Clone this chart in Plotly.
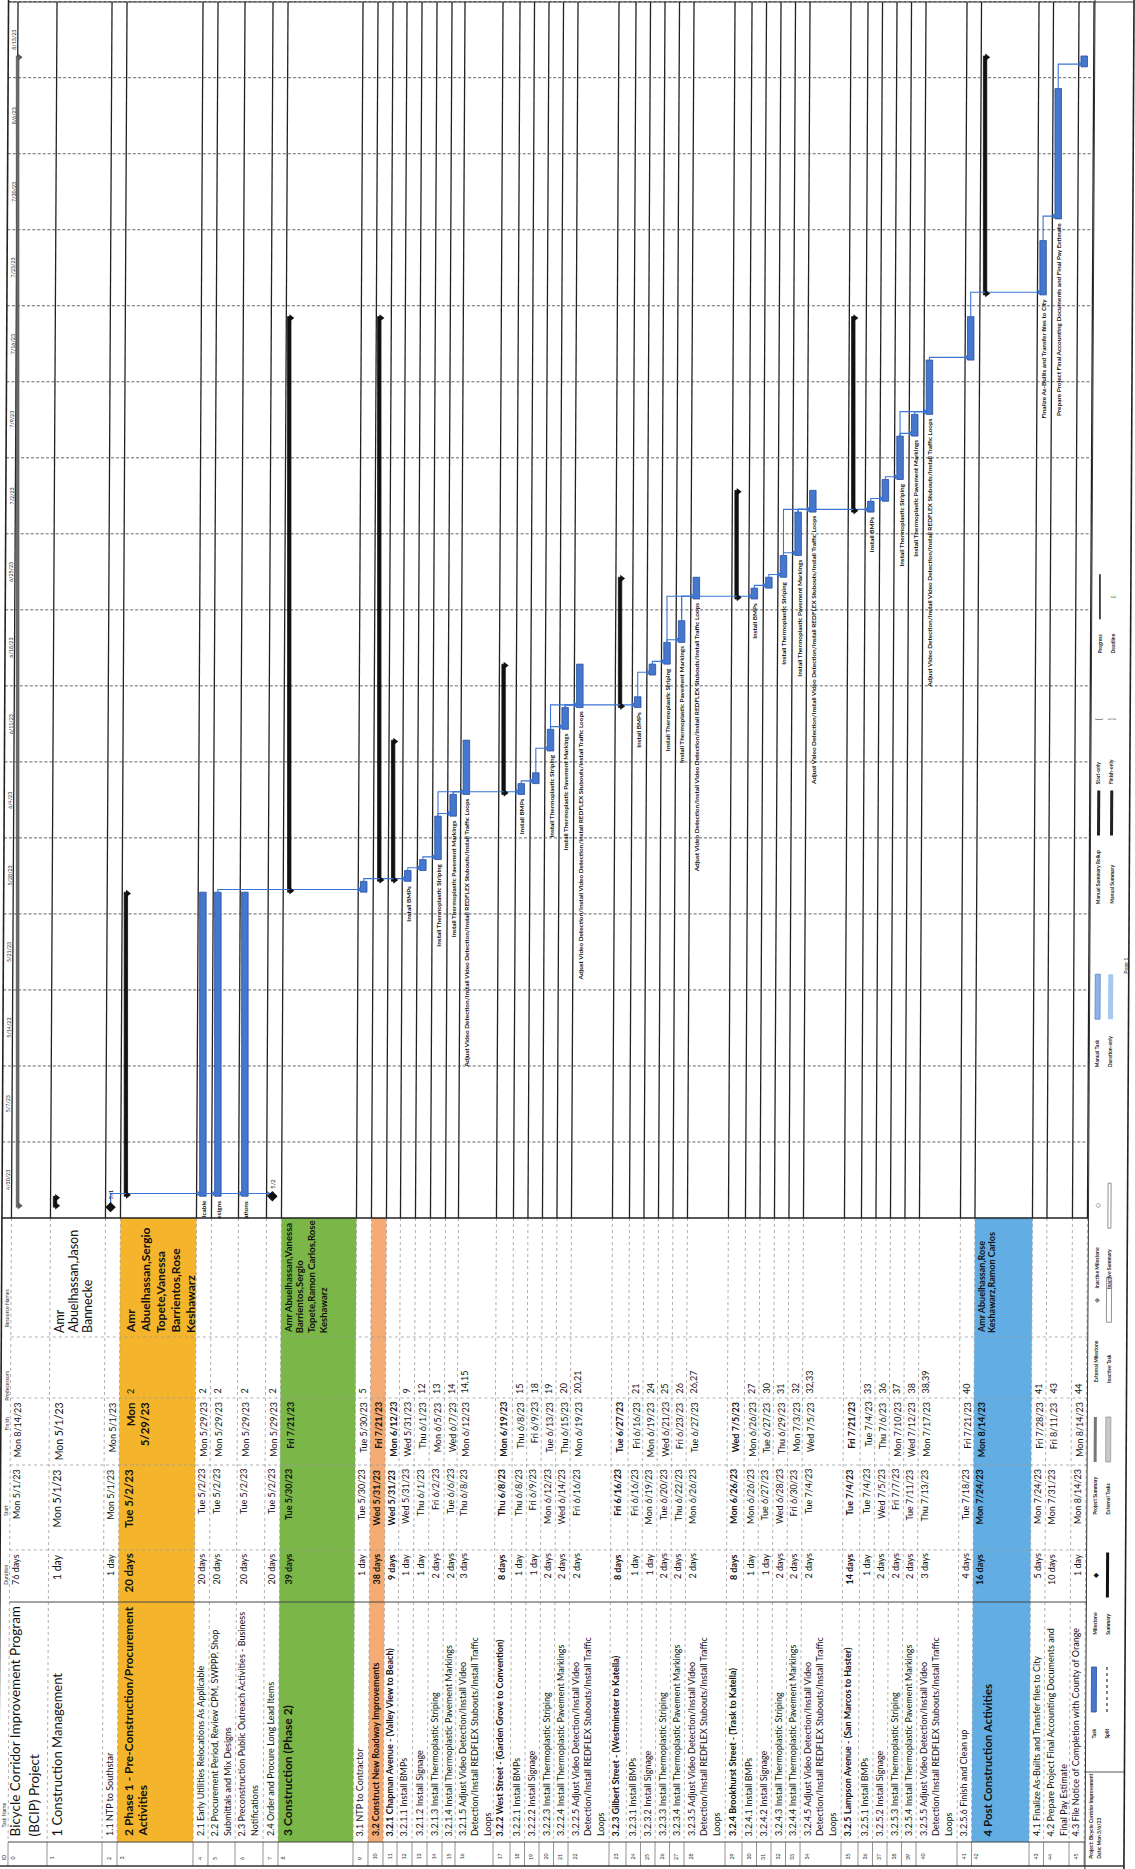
import re
import plotly.graph_objects as go
import pandas as pd

W, H = 1135, 1869
FONT = "Lato, 'Noto Sans', sans-serif"
INK = "#111111"

# ---------------------------------------------------------------- data
task_ids = list(range(46))
task_names = [
    "Bicycle Corridor Improvement Program (BCIP) Project",
    "1 Construction Management",
    "1.1 NTP to Southstar",
    "2 Phase 1 - Pre-Construction/Procurement Activities",
    "2.1 Early Utilities Relocations As Applicable",
    "2.2 Procurement Period, Review CPM, SWPPP, Shop Submittals and Mix Designs",
    "2.3 Preconstruction Public Outreach Activities - Business Notifications",
    "2.4 Order and Procure Long Lead Items",
    "3 Construction (Phase 2)",
    "3.1 NTP to Contractor",
    "3.2 Construct New Roadway Improvements",
    "3.2.1 Chapman Avenue - (Valley View to Beach)",
    "3.2.1.1 Install BMPs",
    "3.2.1.2 Install Signage",
    "3.2.1.3 Install Thermoplastic Striping",
    "3.2.1.4 Install Thermoplastic Pavement Markings",
    "3.2.1.5 Adjust Video Detection/Install Video Detection/Install REDFLEX Stubouts/Install Traffic Loops",
    "3.2.2 West Street - (Garden Grove to Convention)",
    "3.2.2.1 Install BMPs",
    "3.2.2.2 Install Signage",
    "3.2.2.3 Install Thermoplastic Striping",
    "3.2.2.4 Install Thermoplastic Pavement Markings",
    "3.2.2.5 Adjust Video Detection/Install Video Detection/Install REDFLEX Stubouts/Install Traffic Loops",
    "3.2.3 Gilbert Street - (Westminster to Katella)",
    "3.2.3.1 Install BMPs",
    "3.2.3.2 Install Signage",
    "3.2.3.3 Install Thermoplastic Striping",
    "3.2.3.4 Install Thermoplastic Pavement Markings",
    "3.2.3.5 Adjust Video Detection/Install Video Detection/Install REDFLEX Stubouts/Install Traffic Loops",
    "3.2.4 Brookhurst Street - (Trask to Katella)",
    "3.2.4.1 Install BMPs",
    "3.2.4.2 Install Signage",
    "3.2.4.3 Install Thermoplastic Striping",
    "3.2.4.4 Install Thermoplastic Pavement Markings",
    "3.2.4.5 Adjust Video Detection/Install Video Detection/Install REDFLEX Stubouts/Install Traffic Loops",
    "3.2.5 Lampson Avenue - (San Marcos to Haster)",
    "3.2.5.1 Install BMPs",
    "3.2.5.2 Install Signage",
    "3.2.5.3 Install Thermoplastic Striping",
    "3.2.5.4 Install Thermoplastic Pavement Markings",
    "3.2.5.5 Adjust Video Detection/Install Video Detection/Install REDFLEX Stubouts/Install Traffic Loops",
    "3.2.5.6 Finish and Clean up",
    "4 Post Construction Activities",
    "4.1 Finalize As-Builts and Transfer files to City",
    "4.2 Prepare Project Final Accounting Documents and Final Pay Estimate",
    "4.3 File Notice of Completion with County of Orange",
]
task_types = ["project", "summary", "milestone", "summary", "task", "task", "task", "milestone",
              "summary", "task", "summary", "summary", "task", "task", "task", "task", "task",
              "summary", "task", "task", "task", "task", "task",
              "summary", "task", "task", "task", "task", "task",
              "summary", "task", "task", "task", "task", "task",
              "summary", "task", "task", "task", "task", "task", "task",
              "summary", "task", "task", "task"]
durations = ["76 days", "1 day", "1 day", "20 days", "20 days", "20 days", "20 days", "20 days",
             "39 days", "1 day", "38 days", "9 days", "1 day", "1 day", "2 days", "2 days", "3 days",
             "8 days", "1 day", "1 day", "2 days", "2 days", "2 days",
             "8 days", "1 day", "1 day", "2 days", "2 days", "2 days",
             "8 days", "1 day", "1 day", "2 days", "2 days", "2 days",
             "14 days", "1 day", "2 days", "2 days", "2 days", "3 days", "4 days",
             "16 days", "5 days", "10 days", "1 day"]
start_dates = ["Mon 5/1/23", "Mon 5/1/23", "Mon 5/1/23", "Tue 5/2/23", "Tue 5/2/23", "Tue 5/2/23", "Tue 5/2/23", "Tue 5/2/23",
               "Tue 5/30/23", "Tue 5/30/23", "Wed 5/31/23", "Wed 5/31/23", "Wed 5/31/23", "Thu 6/1/23", "Fri 6/2/23", "Tue 6/6/23", "Thu 6/8/23",
               "Thu 6/8/23", "Thu 6/8/23", "Fri 6/9/23", "Mon 6/12/23", "Wed 6/14/23", "Fri 6/16/23",
               "Fri 6/16/23", "Fri 6/16/23", "Mon 6/19/23", "Tue 6/20/23", "Thu 6/22/23", "Mon 6/26/23",
               "Mon 6/26/23", "Mon 6/26/23", "Tue 6/27/23", "Wed 6/28/23", "Fri 6/30/23", "Tue 7/4/23",
               "Tue 7/4/23", "Tue 7/4/23", "Wed 7/5/23", "Fri 7/7/23", "Tue 7/11/23", "Thu 7/13/23", "Tue 7/18/23",
               "Mon 7/24/23", "Mon 7/24/23", "Mon 7/31/23", "Mon 8/14/23"]
finish_dates = ["Mon 8/14/23", "Mon 5/1/23", "Mon 5/1/23", "Mon 5/29/23", "Mon 5/29/23", "Mon 5/29/23", "Mon 5/29/23", "Mon 5/29/23",
                "Fri 7/21/23", "Tue 5/30/23", "Fri 7/21/23", "Mon 6/12/23", "Wed 5/31/23", "Thu 6/1/23", "Mon 6/5/23", "Wed 6/7/23", "Mon 6/12/23",
                "Mon 6/19/23", "Thu 6/8/23", "Fri 6/9/23", "Tue 6/13/23", "Thu 6/15/23", "Mon 6/19/23",
                "Tue 6/27/23", "Fri 6/16/23", "Mon 6/19/23", "Wed 6/21/23", "Fri 6/23/23", "Tue 6/27/23",
                "Wed 7/5/23", "Mon 6/26/23", "Tue 6/27/23", "Thu 6/29/23", "Mon 7/3/23", "Wed 7/5/23",
                "Fri 7/21/23", "Tue 7/4/23", "Thu 7/6/23", "Mon 7/10/23", "Wed 7/12/23", "Mon 7/17/23", "Fri 7/21/23",
                "Mon 8/14/23", "Fri 7/28/23", "Fri 8/11/23", "Mon 8/14/23"]
predecessors = ["", "", "", "2", "2", "2", "2", "2",
                "", "5", "", "", "9", "12", "13", "14", "14,15",
                "", "15", "18", "19", "20", "20,21",
                "", "21", "24", "25", "26", "26,27",
                "", "27", "30", "31", "32", "32,33",
                "", "33", "36", "37", "38", "38,39", "40",
                "", "41", "43", "44"]
resource_names = [""] * 46
resource_names[1] = "Amr Abuelhassan,Jason Bannecke"
resource_names[3] = "Amr Abuelhassan,Sergio Topete,Vanessa Barrientos,Rose Keshawarz"
resource_names[8] = "Amr Abuelhassan,Vanessa Barrientos,Sergio Topete,Ramon Carlos,Rose Keshawarz"
resource_names[42] = "Amr Abuelhassan,Rose Keshawarz,Ramon Carlos"

gantt_label_rows = [4, 5, 6, 12, 14, 15, 16, 18, 20, 21, 22, 24, 26, 27, 28,
                    30, 32, 33, 34, 36, 38, 39, 40, 43, 44]
timescale_labels = ["4/30/23", "5/7/23", "5/14/23", "5/21/23", "5/28/23", "6/4/23", "6/11/23",
                    "6/18/23", "6/25/23", "7/2/23", "7/9/23", "7/16/23", "7/23/23", "7/30/23",
                    "8/6/23", "8/13/23"]
column_headers = ["ID", "Task Name", "Duration", "Start", "Finish", "Predecessors", "Resource Names"]
legend_pairs = [("Task", "Split"), ("Milestone", "Summary"), ("Project Summary", "External Tasks"),
                ("External Milestone", "Inactive Task"), ("Inactive Milestone", "Inactive Summary"),
                ("Manual Task", "Duration-only"), ("Manual Summary Rollup", "Manual Summary"),
                ("Start-only", "Finish-only"), ("Progress", "Deadline")]
footer_lines = ["Project: Bicycle Corridor Improvement", "Date: Mon 3/6/23"]
page_label = "Page 1"

# ---------------------------------------------------------------- layout constants
ROW_EDGES = [8, 47, 102, 117, 193, 208, 235, 263, 278, 353, 368, 383, 397, 412, 427, 442, 455,
             493, 510, 524.5, 539, 553.5, 568, 609, 626, 640.5, 655, 669.5, 684, 725, 742, 756.5,
             771, 785.5, 800, 841, 858, 872.5, 887, 901.5, 916, 957, 971.5, 1029, 1043.5, 1069, 1084]
NAME_BREAKS = {0: ["(BCIP)"], 3: ["Activities"], 5: ["Submittals"], 6: ["Notifications"],
               44: ["Final Pay"]}
for _r, _n in enumerate(task_names):
    if "REDFLEX" in _n:
        NAME_BREAKS[_r] = ["Detection/Install REDFLEX", "Loops"]
RES_WRAP = {1: 17, 3: 18, 8: 25, 42: 25}
BAND_COLORS = {3: "#f4b52c", 8: "#7ab648", 10: "#f5ab74", 42: "#62aee4"}
# (size, bold, first-line offset, line spacing)
NAME_STYLE = {0: (13.5, False, 7, 19), 1: (13, False, 10, 14), 3: (12, True, 10.5, 15),
              8: (12, True, 9, 15), 42: (11.5, True, 16, 15)}
COL_STYLE = {0: (9, False, 6, 12), 1: (10.5, False, 8.5, 14), 3: (11.5, True, 9.5, 14),
             8: (9, True, 8.5, 12), 42: (9, True, 6.5, 12)}
RES_STYLE = {1: (12.5, False, 9, 14), 3: (12, True, 10, 15), 8: (9.5, True, 7, 11.7),
             42: (9, True, 6.5, 10.5)}
DEFAULT = (9.0, False, 6.5, 12.5)

Y_GANTT = 1218
Y_RES_L, Y_PRED_L, Y_FIN_R, Y_START_R, Y_DUR_R, Y_NAME_L, Y_ID_L = 1334, 1395, 1401, 1468, 1553, 1837, 1861
COL_SEPS = [(1337, "dot"), (1398, "dot"), (1465, "dot"), (1550, "dot"), (1602, None), (1842, None)]
LEFT_BORDER, RIGHT_BORDER, LEGEND_X = -1.5, 1124, 1085
DAY_PX = 10.86
T0 = pd.Timestamp("2023-04-30")


def to_ts(s):
    return pd.to_datetime(s.split()[-1], format="%m/%d/%y")


starts = [to_ts(s) for s in start_dates]
ends = [to_ts(s) + pd.Timedelta(days=1) for s in finish_dates]


def ypx(t):
    return Y_GANTT - (t - T0) / pd.Timedelta(days=1) * DAY_PX


def sk(y):  # scan skew (page slightly rotated)
    return 9.5 * (1855 - y) / 1755


def P(y):
    return 1 - y / H


def iso(t):
    return t.strftime("%Y-%m-%d %H:%M:%S")


shapes, anns = [], []


def line(x0, y0, x1, y1, color, width=1.0, dash=None):
    ln = dict(color=color, width=width)
    if dash:
        ln["dash"] = dash
    shapes.append(dict(type="line", xref="x", yref="paper", x0=x0, y0=P(y0), x1=x1, y1=P(y1),
                       line=ln, layer="below"))


def vline(xb, y0, y1, color, width=1.0, dash=None):
    line(xb + sk(y0), y0, xb + sk(y1), y1, color, width, dash)


def band(x0, x1, y0, y1, color, outline=None):
    path = (f"M{x0 + sk(y0)},{P(y0)} L{x1 + sk(y0)},{P(y0)} L{x1 + sk(y1)},{P(y1)} "
            f"L{x0 + sk(y1)},{P(y1)} Z")
    shapes.append(dict(type="path", xref="x", yref="paper", path=path, fillcolor=color,
                       line=dict(width=(0.8 if outline else 0), color=outline or color),
                       layer="below"))


def vtext(x, y, text, size, bold=False, anchor="bottom", color=INK, yref="paper", yshift=0):
    anns.append(dict(xref="x", yref=yref, x=x, y=(P(y) if yref == "paper" else y),
                     text=(f"<b>{text}</b>" if bold else text), textangle=-90, showarrow=False,
                     xanchor="center", yanchor=anchor, yshift=yshift, borderpad=0,
                     font=dict(family=FONT, size=size, color=color)))


def wrap_words(text, width):
    out, cur = [], ""
    for w in text.split(" "):
        if cur and len(cur) + 1 + len(w) > width:
            out.append(cur)
            cur = w
        else:
            cur = (cur + " " + w) if cur else w
    out.append(cur)
    return out


def name_lines(r):
    s = task_names[r]
    for b in NAME_BREAKS.get(r, []):
        s = s.replace(" " + b, "\n" + b, 1)
    return s.split("\n")


# ---------------------------------------------------------------- table backgrounds / grid
for r, col in BAND_COLORS.items():
    band(ROW_EDGES[r], ROW_EDGES[r + 1], Y_GANTT, 1842, col)

for b in ROW_EDGES:
    vline(b, 2, Y_GANTT, "#222222", 1.3)
    vline(b, Y_GANTT, 1842, "#9c9c9c", 0.8, "dot")
    vline(b, 1842, 1866, "#777777", 0.8)
for y, d in COL_SEPS:
    line(ROW_EDGES[0] + sk(y), y, LEGEND_X + sk(y), y, "#9c9c9c" if d else "#444444", 0.8 if d else 1.0, d)
line(LEFT_BORDER + sk(Y_GANTT), Y_GANTT, LEGEND_X + sk(Y_GANTT), Y_GANTT, "#222222", 1.4)

# week gridlines + timescale
for k, lab in enumerate(timescale_labels):
    wk = T0 + pd.Timedelta(days=7 * k)
    y = ypx(wk)
    if k > 0:
        line(LEFT_BORDER + sk(y), y, LEGEND_X + sk(y), y, "#555555", 0.9, "3px,2px")
    yc = ypx(wk + pd.Timedelta(days=3.5))
    vtext((LEFT_BORDER + ROW_EDGES[0]) / 2 + 1 + sk(yc), yc, lab, 5.3, anchor="middle", color="#333")
yl = ypx(T0 + pd.Timedelta(days=7 * len(timescale_labels)))
line(LEFT_BORDER + sk(yl), yl, LEGEND_X + sk(yl), yl, "#555555", 0.9, "3px,2px")

# page border
vline(LEFT_BORDER, 0, H, "#222222", 1.6)
vline(RIGHT_BORDER, 0, H, "#222222", 1.6)
vline(LEGEND_X, 0, H, "#333333", 1.0)
line(LEFT_BORDER + sk(2), 2, RIGHT_BORDER + sk(2), 2, "#333333", 1.2)
line(LEFT_BORDER + sk(1866), 1866, RIGHT_BORDER + sk(1866), 1866, "#333333", 1.4)

# column headers
HEADER_Y = [1858, 1815, 1575, 1511, 1424, 1385, 1308]
for lab, y in zip(column_headers, HEADER_Y):
    vtext((LEFT_BORDER + ROW_EDGES[0]) / 2 + 1 + sk(y), y, lab, 5.2, anchor="middle", color="#333")

# ---------------------------------------------------------------- table text
for r in task_ids:
    x0 = ROW_EDGES[r]
    summary = task_types[r] in ("summary", "project") and r != 0
    ns = NAME_STYLE.get(r, (DEFAULT[0], summary, DEFAULT[2], DEFAULT[3]))
    cs = COL_STYLE.get(r, (DEFAULT[0], summary, DEFAULT[2], DEFAULT[3]))
    idx = x0 + (4 if r in NAME_STYLE else 6.5)
    vtext(idx + sk(1855), Y_ID_L, str(task_ids[r]), 5.3, color="#333")
    for i, ln in enumerate(name_lines(r)):
        vtext(x0 + ns[2] + i * ns[3] + sk(Y_NAME_L - 60), Y_NAME_L, ln, ns[0], ns[1], "bottom")
    vtext(x0 + cs[2] + sk(1570), Y_DUR_R, durations[r], cs[0], cs[1], "top")
    vtext(x0 + cs[2] + sk(1490), Y_START_R, start_dates[r], cs[0], cs[1], "top")
    fin = finish_dates[r]
    fl = [fin] if len(fin) * 0.56 * cs[0] < 64 else fin.split(" ", 1)
    for i, ln in enumerate(fl):
        vtext(x0 + cs[2] + 1.5 + i * cs[3] + sk(1420), Y_FIN_R, ln, cs[0], cs[1], "top")
    if predecessors[r]:
        vtext(x0 + cs[2] + (1.5 if r in COL_STYLE else 0) + sk(1380), Y_PRED_L, predecessors[r],
              min(cs[0], 9.0), False, "bottom")
    if resource_names[r]:
        rs = RES_STYLE[r]
        for i, ln in enumerate(wrap_words(resource_names[r], RES_WRAP[r])):
            vtext(x0 + rs[2] + i * rs[3] + sk(1290), Y_RES_L, ln, rs[0], rs[1], "bottom")

# ---------------------------------------------------------------- gantt bars
BAR_OFF = {"task": 5.5, "summary": 4.5, "project": 3.0, "milestone": 5.0}


def bar_x(r):
    ym = (ypx(starts[r]) + ypx(ends[r])) / 2
    return ROW_EDGES[r] + BAR_OFF[task_types[r]] + sk(ym)


fig = go.Figure()


def add_bars(rows, color, line_color, width):
    fig.add_trace(go.Bar(
        x=[bar_x(r) for r in rows],
        y=[(ends[r] - starts[r]) / pd.Timedelta(milliseconds=1) for r in rows],
        base=[iso(starts[r]) for r in rows],
        width=[width] * len(rows), orientation="v",
        marker=dict(color=color, line=dict(color=line_color, width=0.8)),
        hoverinfo="skip", xaxis="x", yaxis="y"))


# links (finish-to-start)
LINK = "#3b76d6"
lx, ly, ax_, ay_ = [], [], [], []
for s in task_ids:
    if not predecessors[s] or task_types[s] == "summary":
        continue
    for p in [int(v) for v in predecessors[s].split(",")]:
        xp = bar_x(p)
        yp = starts[p] if task_types[p] == "milestone" else ends[p]
        hy = starts[s] + pd.Timedelta(hours=6)
        if hy < yp:
            hy = yp + pd.Timedelta(hours=4)
        xs = bar_x(s) - 3.2
        lx += [xp, xp, xs, None]
        ly += [iso(yp), iso(hy), iso(hy), None]
        ax_.append(xs - 1)
        ay_.append(iso(hy))
fig.add_trace(go.Scatter(x=lx, y=ly, mode="lines", line=dict(color=LINK, width=1.1),
                         hoverinfo="skip", xaxis="x", yaxis="y"))
fig.add_trace(go.Scatter(x=ax_, y=ay_, mode="markers",
                         marker=dict(symbol="triangle-right", size=5, color=LINK),
                         hoverinfo="skip", xaxis="x", yaxis="y"))

task_rows = [r for r in task_ids if task_types[r] == "task"]
add_bars(task_rows, "#4677cf", "#244f9e", 6.5)
sum_rows = [r for r in task_ids if task_types[r] == "summary"]
add_bars(sum_rows, "#111111", "#111111", 3.4)
add_bars([0], "#6a6a6a", "#555555", 2.6)

cx, cy, cc = [], [], []
for r in sum_rows + [0]:
    col = "#111111" if r else "#5a5a5a"
    for t in (starts[r] + pd.Timedelta(hours=3), ends[r] - pd.Timedelta(hours=3)):
        cx.append(bar_x(r) + 1.8)
        cy.append(iso(t))
        cc.append(col)
fig.add_trace(go.Scatter(x=cx, y=cy, mode="markers",
                         marker=dict(symbol="triangle-right", size=6.5, color=cc),
                         hoverinfo="skip", xaxis="x", yaxis="y"))

ms_rows = [r for r in task_ids if task_types[r] == "milestone"]
fig.add_trace(go.Scatter(x=[bar_x(r) for r in ms_rows], y=[iso(starts[r]) for r in ms_rows],
                         mode="markers", marker=dict(symbol="diamond", size=8, color="#111"),
                         hoverinfo="skip", xaxis="x", yaxis="y"))
for r in ms_rows:
    vtext(bar_x(r), iso(starts[r]), f"{starts[r].month}/{starts[r].day}", 5.8, False, "bottom",
          yref="y", yshift=7)

for r in gantt_label_rows:
    lab = re.sub(r"^[\d.]+\s+", "", task_names[r])
    avail = Y_GANTT - (ypx(starts[r]) + 3)
    n = int(avail / 3.1)
    if len(lab) > n:
        lab = lab[-n:]
    vtext(bar_x(r) + 0.5, iso(starts[r]), lab, 6.4, True, "top", yref="y", yshift=-3)

# ---------------------------------------------------------------- legend (rotated footer)
LX1, LX2 = 1093, 1106
line(LEGEND_X + sk(1772), 1772, RIGHT_BORDER + sk(1772), 1772, "#444", 0.9)
for i, t in enumerate(footer_lines):
    vtext(1090 + i * 8 + sk(1820), 1860, t, 5.0, True, "bottom", color="#222")
LEG_Y = [1740, 1636, 1516, 1384, 1290, 1068, 905, 785, 655]
for (a, b), y in zip(legend_pairs, LEG_Y):
    vtext(LX1 + sk(y), y, a, 5.0, True, "bottom", color="#222")
    vtext(LX2 + sk(y), y, b, 5.0, True, "bottom", color="#222")
    lab_len = max(len(a), len(b)) * 2.6
    ys0, ys1 = y - lab_len - 60, y - lab_len - 15
    if a == "Task":
        band(LX1 - 2.5, LX1 + 2.5, ys1, ys0, "#4677cf", "#244f9e")
        line(LX2 + sk(ys0), ys1, LX2 + sk(ys0), ys0, "#333", 1.2, "dot")
    elif a == "Milestone":
        vtext(LX1 + sk(ys0), (ys0 + ys1) / 2, "◆", 7, anchor="middle", color="#111")
        band(LX2 - 1.5, LX2 + 1.5, ys1, ys0, "#111")
    elif a == "Project Summary":
        band(LX1 - 1.5, LX1 + 1.5, ys1, ys0, "#777")
        band(LX2 - 2.5, LX2 + 2.5, ys1, ys0, "#c8c8c8", "#999")
    elif a == "External Milestone":
        vtext(LX1 + sk(ys0), (ys0 + ys1) / 2, "◆", 7, anchor="middle", color="#888")
        band(LX2 - 2.5, LX2 + 2.5, ys1, ys0, "#ffffff", "#777")
    elif a == "Inactive Milestone":
        vtext(LX1 + sk(ys0), (ys0 + ys1) / 2, "◇", 7, anchor="middle", color="#555")
        band(LX2 - 1.5, LX2 + 1.5, ys1, ys0, "#ffffff", "#777")
    elif a == "Manual Task":
        band(LX1 - 2.5, LX1 + 2.5, ys1, ys0, "#8fb3e8", "#5a86c8")
        band(LX2 - 2.5, LX2 + 2.5, ys1, ys0, "#a9c6ef")
    elif a == "Manual Summary Rollup":
        band(LX1 - 1.5, LX1 + 1.5, ys1, ys0, "#222")
        band(LX2 - 1.5, LX2 + 1.5, ys1, ys0, "#222")
    elif a == "Start-only":
        vtext(LX1 + sk(ys0), (ys0 + ys1) / 2, "[", 7, anchor="middle", color="#333")
        vtext(LX2 + sk(ys0), (ys0 + ys1) / 2, "]", 7, anchor="middle", color="#333")
    elif a == "Progress":
        line(LX1 + sk(ys0), ys1, LX1 + sk(ys0), ys0, "#111", 1.5)
        vtext(LX2 + sk(ys0), (ys0 + ys1) / 2, "⇩", 7, anchor="middle", color="#2e9e3e")
vtext(1121 + sk(966), 966, page_label, 5.5, False, "middle", color="#222")

# ---------------------------------------------------------------- layout
top_date = T0 + pd.Timedelta(days=Y_GANTT / DAY_PX)
fig.update_layout(
    width=W, height=H, margin=dict(l=0, r=0, t=0, b=0),
    paper_bgcolor="white", plot_bgcolor="rgba(0,0,0,0)",
    showlegend=False, barmode="overlay",
    xaxis=dict(range=[0, W], domain=[0, 1], visible=False, fixedrange=True),
    yaxis=dict(type="date", range=[iso(T0), iso(top_date)], domain=[1 - Y_GANTT / H, 1],
               visible=False, fixedrange=True),
    shapes=shapes, annotations=anns,
)
fig.write_html("out.html", config={"displayModeBar": False, "staticPlot": True},
               post_script="document.body.style.margin='0';")
